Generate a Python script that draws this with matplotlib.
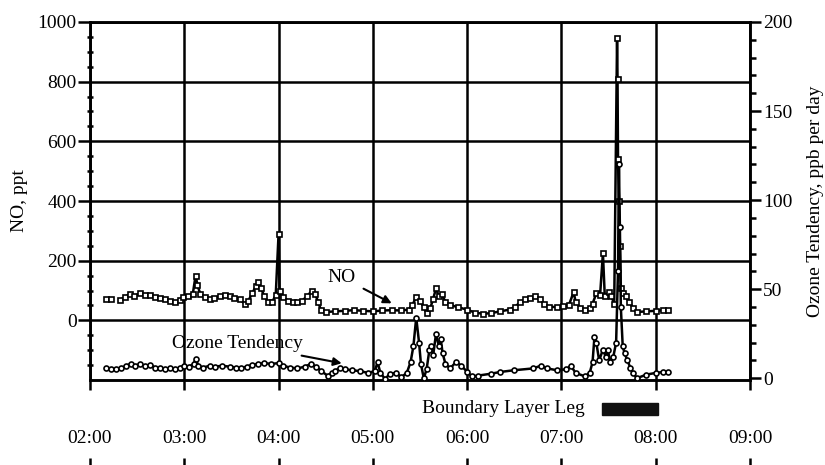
import numpy as np
import matplotlib
matplotlib.use("Agg")
import matplotlib.pyplot as plt
from matplotlib.patches import Rectangle
import matplotlib.transforms as mtransforms

plt.rcParams['font.family'] = ['Liberation Serif', 'DejaVu Serif']
plt.rcParams['font.size'] = 14

# NO, ppt (time in decimal hours)
no_time = [2.17, 2.22, 2.27, 2.32, 2.37, 2.42, 2.47, 2.53, 2.58, 2.64, 2.69, 2.74, 2.80, 2.85,
           2.90, 2.95, 2.99, 3.04, 3.09, 3.12, 3.14, 3.17, 3.22, 3.27, 3.32, 3.38, 3.43, 3.48,
           3.53, 3.59, 3.64, 3.68, 3.72, 3.76, 3.78, 3.81, 3.85, 3.89, 3.93, 3.97, 4.00, 4.01,
           4.05, 4.10, 4.15, 4.20, 4.25, 4.30, 4.35, 4.39, 4.42, 4.45, 4.50, 4.60, 4.70, 4.80,
           4.90, 5.00, 5.10, 5.20, 5.30, 5.38, 5.42, 5.46, 5.50, 5.54, 5.57, 5.61, 5.64, 5.67,
           5.70, 5.73, 5.77, 5.82, 5.90, 6.00, 6.08, 6.17, 6.25, 6.35, 6.45, 6.51, 6.56, 6.61,
           6.67, 6.72, 6.77, 6.81, 6.87, 6.95, 7.02, 7.08, 7.13, 7.15, 7.20, 7.25, 7.30, 7.33,
           7.37, 7.41, 7.44, 7.46, 7.50, 7.53, 7.56, 7.59, 7.595, 7.60, 7.61, 7.62, 7.63, 7.65,
           7.68, 7.72, 7.76, 7.80, 7.90, 8.00, 8.08, 8.13]
no_ppt = [72, 70, np.nan, 68, 78, 88, 82, 90, 86, 84, 78, 74, 70, 66,
          60, 68, 78, 82, 88, 150, 118, 88, 78, 72, 76, 80, 84, 80,
          74, 70, 56, 66, 90, 115, 130, 110, 80, 62, 60, 85, 290, 100,
          78, 66, 62, 60, 66, 80, 98, 88, 60, 35, 28, 30, 32, 34,
          32, 30, 33, 34, 33, 36, 52, 78, 66, 44, 24, 42, 72, 108,
          80, 88, 62, 52, 44, 36, 26, 22, 24, 30, 36, 46, 60, 70,
          76, 80, 72, 56, 46, 44, 48, 52, 95, 62, 42, 36, 40, 56,
          90, 84, 225, 80, 94, 80, 56, 945, 810, 540, 400, 250, 110, 92,
          80, 62, 40, 28, 30, 32, 34, 34]

# Ozone tendency, ppb per day
o3_time = [2.17, 2.22, 2.28, 2.33, 2.38, 2.43, 2.48, 2.53, 2.58, 2.64, 2.69, 2.74, 2.80, 2.85,
           2.90, 2.95, 3.00, 3.05, 3.10, 3.12, 3.15, 3.20, 3.27, 3.33, 3.40, 3.48, 3.55, 3.60,
           3.66, 3.72, 3.78, 3.85, 3.92, 4.00, 4.05, 4.12, 4.20, 4.28, 4.34, 4.40, 4.45, 4.52,
           4.57, 4.60, 4.65, 4.70, 4.78, 4.86, 4.95, 5.02, 5.05, 5.08, 5.13, 5.18, 5.25, 5.30,
           5.36, 5.40, 5.43, 5.46, 5.49, 5.51, 5.54, 5.57, 5.60, 5.62, 5.64, 5.67, 5.70, 5.72,
           5.74, 5.77, 5.82, 5.88, 5.94, 6.00, 6.05, 6.12, 6.25, 6.35, 6.50, 6.70, 6.78, 6.85,
           6.95, 7.05, 7.10, 7.15, 7.25, 7.30, 7.33, 7.35, 7.37, 7.40, 7.44, 7.47, 7.49, 7.52,
           7.55, 7.58, 7.60, 7.61, 7.62, 7.63, 7.65, 7.67, 7.70, 7.73, 7.76, 7.80, 7.90, 8.00,
           8.08, 8.13]
o3_tend = [5.5, 5, 5, 5.5, 7, 8, 7, 8, 7, 7.5, 6, 5.5, 5, 6,
           5, 6, 7, 6.5, 8, 11, 7, 6, 7, 6.5, 7, 6.5, 6, 5.5,
           6.5, 7.5, 8, 8.5, 8, 8.5, 7, 6, 5.5, 6.5, 8, 6.5, 4, 1.5,
           3, 4, 6, 5, 4.5, 4, 3, 4, 9, 3, -0.5, 2.5, 3, 0.5,
           3, 9, 18, 34, 20, 8, 0, 5, 16, 18, 13, 25, 18, 22,
           14, 8, 5.5, 9, 7, 3.5, 1, 1.5, 2.5, 3.5, 4.5, 5.5, 7, 5.5,
           4.5, 5, 7, 3, 1, 3, 9, 23, 20, 10, 16, 12, 16, 9,
           12, 20, 60, 120, 85, 40, 18, 14, 10, 6, 3, 0, 2, 3,
           3.5, 3.5]

hours = [2, 3, 4, 5, 6, 7, 8, 9]
hour_labels = ["02:00", "03:00", "04:00", "05:00", "06:00", "07:00", "08:00", "09:00"]
leg_start, leg_end = 7.43, 8.02

fig = plt.figure(figsize=(8.25, 4.65), dpi=100)
ax = fig.add_axes([90 / 825, 85 / 465, 660 / 825, 358 / 465])
ax2 = ax.twinx()

lw = 1.8
ax.set_xlim(2, 9)
ax.set_ylim(-200, 1000)
ax.set_yticks([0, 200, 400, 600, 800, 1000])
ax.set_yticks(np.arange(-150, 1000, 50), minor=True)
ax.set_xticks(hours)
ax.set_xticklabels([])
ax.grid(True, color='black', lw=lw)
ax.set_axisbelow(True)
ax.tick_params(axis='y', which='major', direction='out', length=8.5, width=lw, pad=1)
ax.tick_params(axis='y', which='minor', direction='inout', length=5, width=lw)
ax.tick_params(axis='x', which='major', direction='out', length=7, width=lw)
for s in ax.spines.values():
    s.set_linewidth(lw)

ax.plot(no_time, no_ppt, color='black', lw=1.8, marker='s', ms=3.6,
        mfc='white', mec='black', mew=1.2, zorder=3)

ax2.set_ylim(-1, 200)
ax2.set_yticks([0, 50, 100, 150, 200])
ax2.set_yticks(np.arange(10, 200, 10), minor=True)
ax2.tick_params(axis='y', which='major', direction='out', length=8, width=lw, pad=1.5)
ax2.tick_params(axis='y', which='minor', direction='out', length=4, width=lw)
for s in ax2.spines.values():
    s.set_linewidth(lw)
ax2.plot(o3_time, o3_tend, color='black', lw=1.8, marker='o', ms=3.6,
         mfc='white', mec='black', mew=1.2, zorder=3)

# annotations
ax.annotate("NO", xy=(5.20, 57), xytext=(4.67, 144), ha='center', va='center',
            arrowprops=dict(arrowstyle='-|>', color='black', lw=1.5, mutation_scale=12,
                            shrinkA=4, shrinkB=0))
ax.annotate("Ozone Tendency", xy=(4.67, -144), xytext=(3.56, -77), ha='center', va='center',
            arrowprops=dict(arrowstyle='-|>', color='black', lw=1.5, mutation_scale=12,
                            shrinkA=4, shrinkB=0))

# boundary layer leg marker below the axes
trans = mtransforms.blended_transform_factory(ax.transData, ax.transAxes)
ax.text(7.25, -0.081, "Boundary Layer Leg", transform=trans, ha='right', va='center')
ax.add_patch(Rectangle((leg_start, -0.098), leg_end - leg_start, 0.034, transform=trans,
                       color='#111111', clip_on=False))

# lower time axis with labels above the ticks
axb = fig.add_axes([90 / 825, 7 / 465, 660 / 825, 0.0001])
axb.set_xlim(2, 9)
axb.set_xticks(hours)
axb.set_xticklabels(hour_labels)
axb.set_yticks([])
for s in axb.spines.values():
    s.set_visible(False)
axb.tick_params(axis='x', direction='in', length=5, width=lw, top=True, labeltop=True,
                bottom=False, labelbottom=False, pad=8)
axb.patch.set_visible(False)

fig.text(20 / 825, (465 - 201) / 465, "NO, ppt", rotation=90, ha='center', va='center')
fig.text(815 / 825, (465 - 201) / 465, "Ozone Tendency, ppb per day", rotation=90,
         ha='center', va='center')

fig.savefig("out.png", dpi=100)
